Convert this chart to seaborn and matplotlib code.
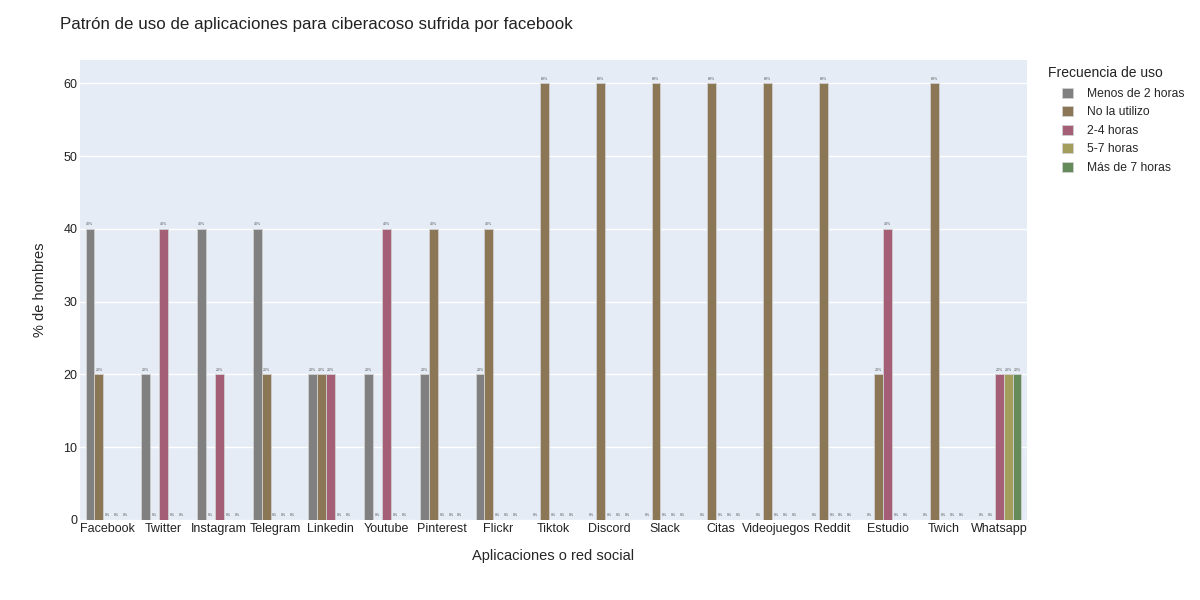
import pandas as pd
import matplotlib.pyplot as plt
import seaborn as sns

apps = ["Facebook", "Twitter", "Instagram", "Telegram", "Linkedin", "Youtube",
        "Pinterest", "Flickr", "Tiktok", "Discord", "Slack", "Citas",
        "Videojuegos", "Reddit", "Estudio", "Twich", "Whatsapp"]
freqs = ["Menos de 2 horas", "No la utilizo", "2-4 horas", "5-7 horas", "Más de 7 horas"]

menos_2 = [40, 20, 40, 40, 20, 20, 20, 20, 0, 0, 0, 0, 0, 0, 0, 0, 0]
no_utilizo = [20, 0, 0, 20, 20, 0, 40, 40, 60, 60, 60, 60, 60, 60, 20, 60, 0]
h2_4 = [0, 40, 20, 0, 20, 40, 0, 0, 0, 0, 0, 0, 0, 0, 40, 0, 20]
h5_7 = [0, 0, 0, 0, 0, 0, 0, 0, 0, 0, 0, 0, 0, 0, 0, 0, 20]
mas_7 = [0, 0, 0, 0, 0, 0, 0, 0, 0, 0, 0, 0, 0, 0, 0, 0, 20]

colors = ["#808080", "#8b7755", "#a45e76", "#a39e5b", "#668b5a"]

rows = []
for f, vals in zip(freqs, [menos_2, no_utilizo, h2_4, h5_7, mas_7]):
    for a, v in zip(apps, vals):
        rows.append({"app": a, "pct": v, "freq": f})
df = pd.DataFrame(rows)

sns.set_theme(style="darkgrid", rc={"axes.facecolor": "#e5ecf6", "grid.color": "white"})
plt.rcParams["font.family"] = ["Liberation Sans", "DejaVu Sans"]

fig = plt.figure(figsize=(12, 6), dpi=100)
ax = fig.add_axes([80 / 1200, 1 - 520 / 600, 947 / 1200, 460 / 600])

sns.barplot(data=df, x="app", y="pct", hue="freq", hue_order=freqs, order=apps,
            palette=colors, width=0.8, edgecolor="#d0d0d0", linewidth=0.6,
            saturation=1, errorbar=None, ax=ax)

for c in ax.containers:
    ax.bar_label(c, fmt="%d%%", fontsize=2.6, padding=2, color="#555555")

ax.set_ylim(0, 63.2)
ax.set_xlim(-0.5, len(apps) - 0.5)
ax.set_yticks([0, 10, 20, 30, 40, 50, 60])
ax.grid(axis="x", visible=False)
for s in ax.spines.values():
    s.set_visible(False)
ax.tick_params(axis="both", labelsize=9, pad=2, length=0, colors="#222222")
ax.set_xlabel("Aplicaciones o red social", fontsize=10.5, labelpad=10)
ax.set_ylabel("% de hombres", fontsize=10.5, labelpad=12)

fig.text(60 / 1200, 1 - 25 / 600, "Patrón de uso de aplicaciones para ciberacoso sufrida por facebook",
         fontsize=12.2, va="center", ha="left", color="#222222")

fig.text(1048 / 1200, 1 - 73 / 600, "Frecuencia de uso", fontsize=10,
         va="center", ha="left", color="#222222")
handles, labels = ax.get_legend_handles_labels()
ax.legend(handles, labels, loc="upper left",
          bbox_to_anchor=(1057 / 1200, 1 - 83 / 600), bbox_transform=fig.transFigure,
          frameon=False, fontsize=8.7, handlelength=0.9,
          handleheight=0.9, handletextpad=1.2, labelspacing=0.52,
          borderaxespad=0)
fig.savefig("out.png", dpi=100)
